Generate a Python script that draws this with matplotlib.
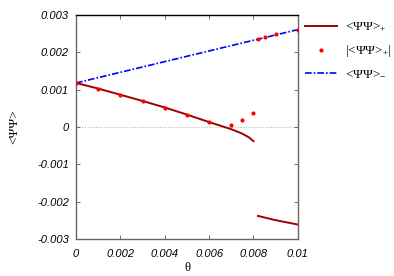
import numpy as np
import matplotlib
matplotlib.use("Agg")
import matplotlib.pyplot as plt

plt.rcParams["mathtext.fontset"] = "custom"
plt.rcParams["mathtext.rm"] = "Liberation Serif"
plt.rcParams["mathtext.it"] = "Liberation Serif:italic"

# <PsiPsi>_+ branch (two pieces), |<PsiPsi>_+| points and <PsiPsi>_- line
theta_plus_a = [0.0, 0.001, 0.002, 0.003, 0.004, 0.005, 0.006, 0.007, 0.0075, 0.0078, 0.008]
psi_plus_a = [0.001175, 0.001025, 0.00086, 0.000694, 0.00052, 0.00033, 0.00013,
              -0.00006, -0.00018, -0.00028, -0.00038]
theta_plus_b = [0.0082, 0.009, 0.01]
psi_plus_b = [-0.002376, -0.00249, -0.002606]

theta_abs = [0.0, 0.001, 0.002, 0.003, 0.004, 0.005, 0.006, 0.007, 0.0075, 0.008,
             0.0082, 0.0085, 0.009, 0.01]
psi_abs = [0.001175, 0.001025, 0.000855, 0.000694, 0.000518, 0.000331, 0.000134,
           0.000063, 0.000187, 0.000366, 0.00235, 0.0024, 0.00247, 0.0026]

theta_minus = [0.0, 0.01]
psi_minus = [0.001175, 0.0026]

xticks = [0, 0.002, 0.004, 0.006, 0.008, 0.01]
xtick_labels = ["0", "0.002", "0.004", "0.006", "0.008", "0.01"]
yticks = [-0.003, -0.002, -0.001, 0, 0.001, 0.002, 0.003]
ytick_labels = ["-0.003", "-0.002", "-0.001", "0", "0.001", "0.002", "0.003"]

fig = plt.figure(figsize=(3.94, 2.76), dpi=100)
ax = fig.add_axes([0.193, 0.133, 0.563, 0.814])

ax.axhline(0, color="#bbbbbb", lw=0.8, ls=(0, (1, 1.5)), zorder=1)

ax.plot(theta_plus_a, psi_plus_a, color="#a00000", lw=1.4, zorder=2,
        label="<ΨΨ>$_{+}$")
ax.plot(theta_plus_b, psi_plus_b, color="#a00000", lw=1.4, zorder=2)
ax.plot(theta_abs, psi_abs, ls="none", marker="o", ms=3.0, mew=0, color="#ff0000",
        zorder=4, label="|<ΨΨ>$_{+}$|")
ax.plot(theta_minus, psi_minus, color="#0000ff", lw=1.2, ls=(0, (4, 1.2, 1, 1.2)),
        zorder=3, label="<ΨΨ>$_{-}$")

ax.set_xlim(0, 0.01)
ax.set_ylim(-0.003, 0.003)
ax.set_xticks(xticks)
ax.set_xticklabels(xtick_labels)
ax.set_yticks(yticks)
ax.set_yticklabels(ytick_labels)

for lab in ax.get_xticklabels() + ax.get_yticklabels():
    lab.set_fontfamily("Liberation Sans")
    lab.set_fontstyle("italic")
    lab.set_fontsize(8)

ax.tick_params(direction="in", length=3, width=0.6, color="#555555",
               top=True, right=True, pad=5)
ax.tick_params(axis="x", pad=7)
for side in ["left", "bottom", "right"]:
    ax.spines[side].set_color("#666666")
    ax.spines[side].set_linewidth(1.0)
ax.spines["top"].set_color("#000000")
ax.spines["top"].set_linewidth(1.0)

ax.set_xlabel("θ", family="Liberation Serif", fontsize=9, labelpad=2)
ax.set_ylabel("<ΨΨ>", family="Liberation Serif", fontsize=9.5)
ax.yaxis.set_label_coords(-0.25, 0.5)

leg = ax.legend(loc="upper left", bbox_to_anchor=(1.01, 0.995), frameon=False,
                prop={"family": "Liberation Serif", "size": 9.5},
                handlelength=2.4, handletextpad=0.6, labelspacing=0.68,
                borderaxespad=0.0, markerscale=1.0)

fig.savefig("out.png", dpi=100)
